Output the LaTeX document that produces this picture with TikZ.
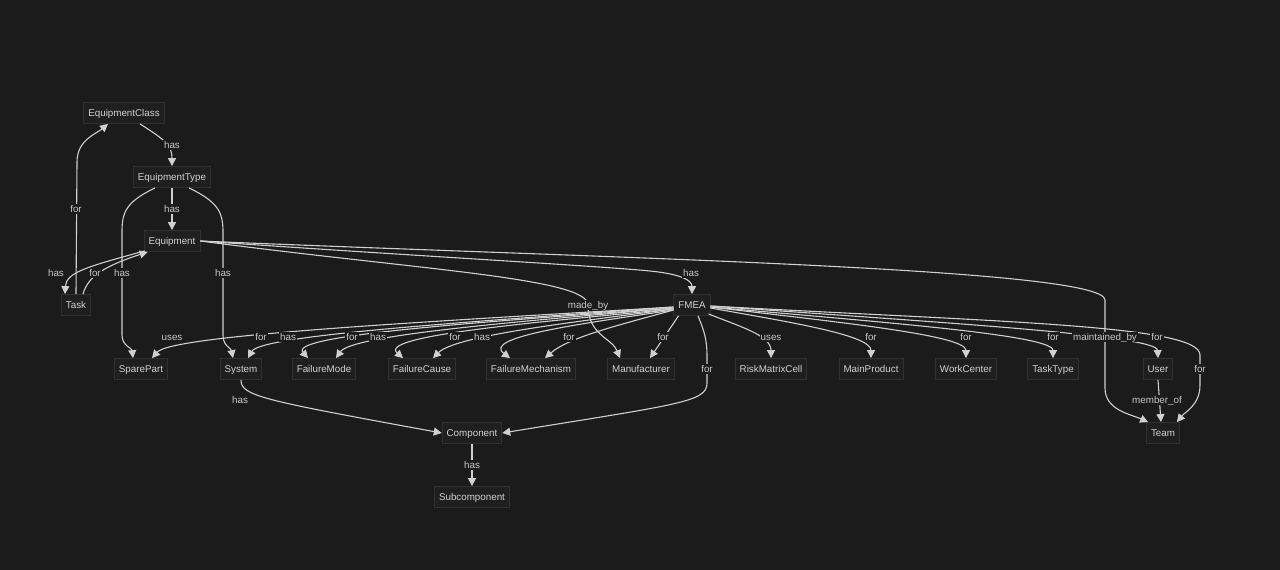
\documentclass[tikz,border=0pt]{standalone}
\usepackage{fontspec}
\setmainfont{Liberation Sans}
\usetikzlibrary{calc,arrows.meta}
\definecolor{bg}{HTML}{1B1B1B}
\definecolor{nodefill}{HTML}{1F1F1F}
\definecolor{nodeborder}{HTML}{303030}
\definecolor{txt}{HTML}{D2D2D2}
\definecolor{edgecol}{HTML}{D0D0D0}
\definecolor{lbltxt}{HTML}{C8C8C8}
\tikzset{
  ent/.style={draw=nodeborder, fill=nodefill, text=txt, font=\fontsize{9.8}{11}\selectfont,
    inner xsep=4.5pt, inner ysep=0pt, minimum height=21pt, text height=7.2pt, text depth=1.2pt, line width=0.8pt},
  rel/.style={draw=edgecol, line width=1.1pt, -{Triangle[length=8pt,width=8pt]}},
  lbl/.style={fill=bg, text=lbltxt, font=\fontsize{9.8}{11}\selectfont, inner sep=1pt, text height=7.2pt, text depth=1.2pt},
}
\begin{document}
\begin{tikzpicture}[x=1pt,y=-1pt]
\fill[bg] (0,0) rectangle (1280,570);
\useasboundingbox (0,0) rectangle (1280,570);

% entities
\node[ent] (ec) at (124,113) {EquipmentClass};
\node[ent] (et) at (172,177) {EquipmentType};
\node[ent] (eq) at (172,241) {Equipment};
\node[ent] (task) at (76,305) {Task};
\node[ent] (fmea) at (692,305) {FMEA};
\node[ent] (sp) at (141,369) {SparePart};
\node[ent] (sys) at (241,369) {System};
\node[ent] (fm) at (324,369) {FailureMode};
\node[ent] (fc) at (422,369) {FailureCause};
\node[ent] (fmech) at (531,369) {FailureMechanism};
\node[ent] (manuf) at (641,369) {Manufacturer};
\node[ent] (rmc) at (771,369) {RiskMatrixCell};
\node[ent] (mp) at (871,369) {MainProduct};
\node[ent] (wc) at (966,369) {WorkCenter};
\node[ent] (tt) at (1053,369) {TaskType};
\node[ent] (user) at (1158,369) {User};
\node[ent] (team) at (1163,433) {Team};
\node[ent] (cmp) at (472,433) {Component};
\node[ent] (sub) at (472,497) {Subcomponent};

% upper-left edges
\draw[rel] ($(ec.south)+(16,0)$) .. controls (165,140) and (172,145) .. (et.north);
\draw[rel] (et.south) -- (eq.north);
\draw[rel] ($(et.south)+(-17,0)$) .. controls (126,202) and (122,212) .. (122,232) -- (122,335) .. controls (122,346) and (132,348) .. ($(sp.north)+(-8,0)$);
\draw[rel] ($(et.south)+(17,0)$) .. controls (218,202) and (223,212) .. (223,232) -- (223,335) .. controls (223,346) and (231,348) .. ($(sys.north)+(-8,0)$);
\draw[rel] ($(eq.south west)+(1,-1)$) .. controls (90,266) and (66,272) .. ($(task.north)+(-11,0)$);
\draw[rel] ($(task.north)+(7,0)$) .. controls (88,276) and (105,266) .. ($(eq.south west)+(4,0)$);
\draw[rel] (task.north) -- (77,162) .. controls (77,140) and (96,134) .. ($(ec.south)+(-16,0)$);

% edges from Equipment
\draw[rel] (eq.east) .. controls (400,255) and (600,266) .. (650,271) .. controls (680,274) and (692,280) .. (fmea.north);
\draw[rel] (eq.east) .. controls (420,270) and (588,278) .. (588,305) .. controls (588,335) and (612,338) .. ($(manuf.north)+(-21,0)$);
\draw[rel] (eq.east) .. controls (600,258) and (1105,268) .. (1105,300) -- (1105,388) .. controls (1105,410) and (1130,414) .. ($(team.north west)+(2,0)$);

% FMEA left fan
\draw[rel] ($(fmea.west)+(0,2)$) .. controls (424,322) and (172,335) .. ($(sp.north)+(11,0)$);
\draw[rel] ($(fmea.west)+(0,2)$) .. controls (469,322) and (261,335) .. ($(sys.north)+(7,0)$);
\draw[rel] ($(fmea.west)+(0,3)$) .. controls (482,322) and (288,335) .. ($(fm.north)+(-16,0)$);
\draw[rel] ($(fmea.west)+(0,3)$) .. controls (514,322) and (352,335) .. ($(fm.north)+(12,0)$);
\draw[rel] ($(fmea.west)+(0,4)$) .. controls (527,323) and (378,336) .. ($(fc.north)+(-19,0)$);
\draw[rel] ($(fmea.west)+(0,4)$) .. controls (566,323) and (455,336) .. ($(fc.north)+(11,0)$);
\draw[rel] ($(fmea.west)+(0,5)$) .. controls (579,324) and (482,337) .. ($(fmech.north)+(-21,0)$);
\draw[rel] ($(fmea.west)+(0,5)$) .. controls (623,324) and (569,337) .. ($(fmech.north)+(14,0)$);
\draw[rel] ($(fmea.south west)+(5,0)$) -- ($(manuf.north)+(9,0)$);

% FMEA right fan
\draw[rel] ($(fmea.south east)+(-2,-2)$) .. controls (738,326) and (771,335) .. (rmc.north);
\draw[rel] ($(fmea.east)+(0,3)$) .. controls (789,322) and (871,335) .. (mp.north);
\draw[rel] ($(fmea.east)+(0,2)$) .. controls (836,322) and (966,335) .. (wc.north);
\draw[rel] ($(fmea.east)+(0,2)$) .. controls (880,322) and (1053,335) .. (tt.north);
\draw[rel] ($(fmea.east)+(0,1)$) .. controls (932,322) and (1157,335) .. (user.north);
\draw[rel] ($(fmea.east)+(0,1)$) .. controls (1000,322) and (1200,325) .. (1200,355) -- (1200,385) .. controls (1200,405) and (1185,412) .. ($(team.north east)+(-3,0)$);

% FMEA -> Component, System -> Component, others
\draw[rel] ($(fmea.south)+(6,0)$) .. controls (704,330) and (707,340) .. (707,355) -- (707,383) .. controls (707,402) and (680,404) .. (cmp.east);
\draw[rel] (sys.south) .. controls (241,396) and (262,400) .. (cmp.west);
\draw[rel] (user.south) -- ($(team.north)+(-2,0)$);
\draw[rel] (cmp.south) -- (sub.north);

% edge labels
\node[lbl] (l1) at (172,145) {has};
\node[lbl] (l2) at (76,209) {for};
\node[lbl] (l3) at (172,209) {has};
\node[lbl] (l4) at (56,273) {has};
\node[lbl] (l5) at (95,273) {for};
\node[lbl] (l6) at (122,273) {has};
\node[lbl] (l7) at (223,273) {has};
\node[lbl] (l8) at (691,273) {has};
\node[lbl] (l9) at (588,305) {made\_by};
\node[lbl] (l10) at (172,337) {uses};
\node[lbl] (l11) at (261,337) {for};
\node[lbl] (l12) at (288,337) {has};
\node[lbl] (l13) at (352,337) {for};
\node[lbl] (l14) at (378,337) {has};
\node[lbl] (l15) at (455,337) {for};
\node[lbl] (l16) at (482,337) {has};
\node[lbl] (l17) at (569,337) {for};
\node[lbl] (l18) at (663,337) {for};
\node[lbl] (l19) at (771,337) {uses};
\node[lbl] (l20) at (871,337) {for};
\node[lbl] (l21) at (966,337) {for};
\node[lbl] (l22) at (1053,337) {for};
\node[lbl] (l23) at (1105,337) {maintained\_by};
\node[lbl] (l24) at (1157,337) {for};
\node[lbl] (l25) at (1200,369) {for};
\node[lbl] (l26) at (707,369) {for};
\node[lbl] (l27) at (1157,400) {member\_of};
\node[lbl] (l28) at (240,400) {has};
\node[lbl] (l29) at (472,465) {has};
\end{tikzpicture}
\end{document}
